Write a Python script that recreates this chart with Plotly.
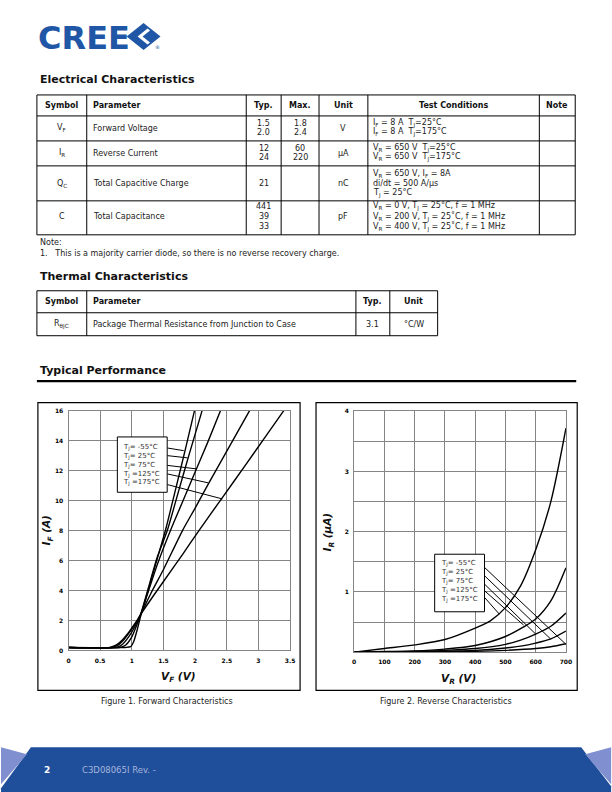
import plotly.graph_objects as go

W, H = 612, 792

# ---------------- Figure 1 data: Forward characteristics (V_F [V], I_F [A]) -------------
temps = ["-55°C", "25°C", "75°C", "125°C", "175°C"]
vf_m55 = [0, 0.90, 0.98, 1.03, 1.08, 1.14, 1.25, 1.40, 1.53, 1.70, 1.85, 1.99]
if_m55 = [0.2, 0.2, 0.25, 0.6, 1.3, 2.3, 3.9, 6.1, 8.0, 10.9, 13.5, 16.0]
vf_25 = [0, 0.80, 0.90, 1.00, 1.07, 1.14, 1.25, 1.40, 1.56, 1.75, 1.90, 2.11]
if_25 = [0.2, 0.2, 0.35, 0.9, 1.6, 2.4, 4.0, 6.2, 8.0, 10.8, 13.0, 16.0]
vf_75 = [0, 0.75, 0.85, 0.95, 1.05, 1.14, 1.25, 1.40, 1.61, 1.80, 2.00, 2.20, 2.40]
if_75 = [0.2, 0.2, 0.4, 0.9, 1.6, 2.4, 3.8, 5.7, 8.0, 9.9, 11.9, 13.9, 16.0]
vf_125 = [0, 0.68, 0.78, 0.88, 0.98, 1.06, 1.14, 1.30, 1.50, 1.80, 2.00, 2.22, 2.50, 2.86]
if_125 = [0.2, 0.2, 0.35, 0.75, 1.3, 1.8, 2.4, 3.8, 5.4, 8.0, 9.5, 11.2, 13.3, 16.0]
vf_175 = [0, 0.65, 0.75, 0.85, 0.95, 1.05, 1.14, 1.30, 1.50, 1.80, 2.06, 2.43, 2.80, 3.10, 3.40]
if_175 = [0.2, 0.2, 0.35, 0.7, 1.2, 1.8, 2.4, 3.4, 4.6, 6.4, 8.0, 10.2, 12.4, 14.2, 16.0]

f1_xticks = [0, 0.5, 1, 1.5, 2, 2.5, 3, 3.5]
f1_xticktext = ["0", "0.5", "1", "1.5", "2", "2.5", "3", "3.5"]
f1_yticks = [0, 2, 4, 6, 8, 10, 12, 14, 16]

# legend leader lines (figure 1): start / end points in data units
f1_lead_x0 = [1.56, 1.56, 1.56, 1.56, 1.56]
f1_lead_y0 = [13.51, 13.0, 12.35, 11.78, 11.07]
f1_lead_x1 = [1.82, 1.88, 2.03, 2.21, 2.43]
f1_lead_y1 = [13.33, 12.85, 12.11, 11.18, 10.11]

# ---------------- Figure 2 data: Reverse characteristics (V_R [V], I_R [uA]) -------------
vr_m55 = [0, 300, 400, 500, 600, 650, 700]
ir_m55 = [0, 0.008, 0.015, 0.03, 0.06, 0.09, 0.14]
vr_25 = [0, 300, 400, 500, 550, 600, 650, 700]
ir_25 = [0, 0.015, 0.03, 0.07, 0.10, 0.15, 0.22, 0.35]
vr_75 = [0, 200, 300, 400, 500, 550, 600, 650, 700]
ir_75 = [0, 0.01, 0.03, 0.06, 0.13, 0.20, 0.30, 0.43, 0.65]
vr_125 = [0, 100, 200, 300, 400, 500, 560, 600, 650, 700]
ir_125 = [0, 0.01, 0.02, 0.05, 0.11, 0.26, 0.42, 0.55, 0.85, 1.40]
vr_175 = [0, 100, 200, 300, 400, 450, 500, 550, 600, 650, 700]
ir_175 = [0, 0.06, 0.12, 0.21, 0.40, 0.52, 0.74, 1.10, 1.70, 2.50, 3.72]

f2_xticks = [0, 100, 200, 300, 400, 500, 600, 700]
f2_ygrid = [0, 0.5, 1, 1.5, 2, 2.5, 3, 3.5, 4]
f2_yticktext = ["", "", "1", "", "2", "", "3", "", "4"]

f2_lead_x0 = [431, 431, 431, 431, 431]
f2_lead_y0 = [1.406, 1.268, 1.129, 1.019, 0.908]
f2_lead_x1 = [700, 649, 600, 560, 480]
f2_lead_y1 = [0.13, 0.22, 0.30, 0.45, 0.63]

# ---------------- Table data -------------
t1_header = ["Symbol", "Parameter", "Typ.", "Max.", "Unit", "Test Conditions", "Note"]
t1_symbol = ["V<sub>F</sub>", "I<sub>R</sub>", "Q<sub>C</sub>", "C"]
t1_param = ["Forward Voltage", "Reverse Current", "Total Capacitive Charge", "Total Capacitance"]
t1_typ = [["1.5", "2.0"], ["12", "24"], ["21"], ["441", "39", "33"]]
t1_max = [["1.8", "2.4"], ["60", "220"], [], []]
t1_unit = ["V", "μA", "nC", "pF"]
t1_cond = [
    ["I<sub>F</sub> = 8 A  T<sub>J</sub>=25°C", "I<sub>F</sub> = 8 A  T<sub>J</sub>=175°C"],
    ["V<sub>R</sub> = 650 V  T<sub>J</sub>=25°C", "V<sub>R</sub> = 650 V  T<sub>J</sub>=175°C"],
    ["V<sub>R</sub> = 650 V, I<sub>F</sub> = 8A", "di/dt = 500 A/μs", "T<sub>J</sub> = 25°C"],
    ["V<sub>R</sub> = 0 V, T<sub>J</sub> = 25°C, f = 1 MHz",
     "V<sub>R</sub> = 200 V, T<sub>J</sub> = 25˚C, f = 1 MHz",
     "V<sub>R</sub> = 400 V, T<sub>J</sub> = 25˚C, f = 1 MHz"],
]
t2_header = ["Symbol", "Parameter", "Typ.", "Unit"]
t2_row = ["R<sub>θJC</sub>", "Package Thermal Resistance from Junction to Case", "3.1", "°C/W"]

# ---------------- helpers (page pixel -> paper fraction) -------------
SX, OX = 1.0101, -1.0
SY, OY = 1.008, -4.0

def px(x):
    return (SX * x + OX) / W

def py(y):
    return 1 - (SY * y + OY) / H

FONT = "DejaVu Sans"
annots = []
shapes = []

def txt(x, y, s, size=8, color="#222", xanchor="left", bold=False, family=FONT, yanchor="middle", **kw):
    if bold:
        s = "<b>" + s + "</b>"
    annots.append(dict(x=px(x), y=py(y), xref="paper", yref="paper", text=s, showarrow=False,
                       xanchor=xanchor, yanchor=yanchor,
                       font=dict(family=family, size=size, color=color), **kw))

def hline(x0, x1, y, w=1, color="black"):
    shapes.append(dict(type="line", xref="paper", yref="paper", x0=px(x0), x1=px(x1), y0=py(y), y1=py(y),
                       line=dict(color=color, width=w)))

def vline(x, y0, y1, w=1, color="black"):
    shapes.append(dict(type="line", xref="paper", yref="paper", x0=px(x), x1=px(x), y0=py(y0), y1=py(y1),
                       line=dict(color=color, width=w)))

def rect(x0, y0, x1, y1, w=1, color="black", fill=None):
    d = dict(type="rect", xref="paper", yref="paper", x0=px(x0), x1=px(x1), y0=py(y0), y1=py(y1),
             line=dict(color=color, width=w))
    if fill:
        d["fillcolor"] = fill
    shapes.append(d)

def path(pts, fill, lw=0, lc=None):
    s = "M " + " L ".join(f"{px(a):.5f},{py(b):.5f}" for a, b in pts) + " Z"
    shapes.append(dict(type="path", xref="paper", yref="paper", path=s, fillcolor=fill,
                       line=dict(width=lw, color=lc or fill)))

# ---------------- Logo -------------
BLUE = "#1f56a5"
txt(35, 37.5, "CREE", size=32, color=BLUE, bold=True)
for yy in [29.5, 33.5, 41.5, 45.0]:
    hline(34, 127, yy, w=1, color="white")
path([(143, 23), (160, 36.5), (143, 50), (126, 36.5)], BLUE)
path([(137, 36.5), (147, 28.5), (149.5, 30.5), (142, 36.5), (149.5, 42.5), (147, 44.5)], "white")
txt(157, 47, "®", size=5, color=BLUE, xanchor="center")

# ---------------- Electrical Characteristics -------------
txt(37, 80, "Electrical Characteristics", size=11, color="#111", bold=True)
c1 = [36, 86, 246, 281, 319, 368, 540, 576]
r1 = [95, 116, 141, 166, 201, 235]
for y in r1:
    hline(c1[0], c1[-1], y)
for x in c1:
    vline(x, r1[0], r1[-1])
hc = [(c1[i] + c1[i + 1]) / 2 for i in range(len(c1) - 1)]
for i, h in enumerate(t1_header):
    if i == 1:
        txt(90, 105.5, h, bold=True, color="#111")
    else:
        txt(hc[i], 105.5, h, bold=True, color="#111", xanchor="center")

row_lines = [[124, 133], [149, 158], [174.5, 184, 194], [207, 217, 227]]
row_center = [128.5, 153.5, 184, 217]
for r in range(4):
    txt(hc[0], row_center[r], t1_symbol[r], xanchor="center")
    txt(90, row_center[r], t1_param[r])
    lines = row_lines[r]
    typ = t1_typ[r]
    if len(typ) == 1:
        txt(hc[2], row_center[r], typ[0], xanchor="center")
    else:
        for k, v in enumerate(typ):
            txt(hc[2], lines[k], v, xanchor="center")
    for k, v in enumerate(t1_max[r]):
        txt(hc[3], lines[k], v, xanchor="center")
    txt(hc[4], row_center[r], t1_unit[r], xanchor="center")
    for k, v in enumerate(t1_cond[r]):
        txt(371, lines[k], v)

txt(37, 243, "Note:")
txt(37, 254, "1.   This is a majority carrier diode, so there is no reverse recovery charge.")

# ---------------- Thermal Characteristics -------------
txt(37, 277, "Thermal Characteristics", size=11, color="#111", bold=True)
c2 = [36, 86, 356, 390, 438]
r2 = [291, 313, 336]
for y in r2:
    hline(c2[0], c2[-1], y)
for x in c2:
    vline(x, r2[0], r2[-1])
hc2 = [(c2[i] + c2[i + 1]) / 2 for i in range(len(c2) - 1)]
for i, h in enumerate(t2_header):
    if i == 1:
        txt(90, 302, h, bold=True, color="#111")
    else:
        txt(hc2[i], 302, h, bold=True, color="#111", xanchor="center")
for i, v in enumerate(t2_row):
    if i == 1:
        txt(90, 325, v)
    else:
        txt(hc2[i], 325, v, xanchor="center")

# ---------------- Typical Performance -------------
txt(37, 371, "Typical Performance", size=11, color="#111", bold=True)
hline(36, 577, 381.5, w=2.2, color="black")

rect(37, 403, 300, 691, w=1.2)
rect(316, 403, 578, 691, w=1.2)
txt(167, 702, "Figure 1. Forward Characteristics", xanchor="center", size=8)
txt(446, 702, "Figure 2. Reverse Characteristics", xanchor="center", size=8)

txt(178, 678, "<b><i>V<sub>F</sub> (V)</i></b>", size=10.5, color="#111", xanchor="center")
txt(46, 531, "<b><i>I<sub>F</sub> (A)</i></b>", size=10.5, color="#111", xanchor="center", textangle=-90)
txt(459, 680, "<b><i>V<sub>R</sub> (V)</i></b>", size=10.5, color="#111", xanchor="center")
txt(328, 532, "<b><i>I<sub>R</sub> (μA)</i></b>", size=10.5, color="#111", xanchor="center", textangle=-90)

rect(116.7, 437.3, 166.7, 492.7, w=1, fill="white")
for t, yy in zip(temps, [447.7, 456.7, 465.7, 474.3, 482.7]):
    sep = "= " if t in ("-55°C", "25°C", "75°C") else " ="
    txt(120, yy, "T<sub>J</sub>" + sep + t, size=7, color="#333")
rect(435, 554.7, 485, 612.3, w=1, fill="white")
for t, yy in zip(temps, [563.5, 572.5, 581.3, 590.5, 599.5]):
    sep = "= " if t in ("-55°C", "25°C", "75°C") else " ="
    txt(439, yy, "T<sub>J</sub>" + sep + t, size=7, color="#333")

# ---------------- Footer -------------
DARK = "#1f4f9b"
LIGHT = "#7f8fcf"
path([(30, 748), (582, 748), (612, 787), (612, 800), (0, 800), (0, 789)], DARK)
path([(0, 748), (26, 755), (0, 785)], LIGHT)
path([(612, 748), (586, 755), (612, 785)], LIGHT)
txt(41, 771, "2", size=9, color="white", bold=True)
txt(79, 771, "C3D08065I Rev. -", size=8.5, color="#a6b4dc")

# ---------------- Figure construction -------------
fig = go.Figure()
curve_style = dict(color="black", width=1.4)
f1 = [(vf_m55, if_m55), (vf_25, if_25), (vf_75, if_75), (vf_125, if_125), (vf_175, if_175)]
for (xs, ys), t in zip(f1, temps):
    fig.add_trace(go.Scatter(x=xs, y=ys, mode="lines", line=dict(shape="spline", smoothing=0.6, **curve_style),
                             name=t, xaxis="x", yaxis="y", showlegend=False, hoverinfo="skip"))
for a, b, c, d in zip(f1_lead_x0, f1_lead_y0, f1_lead_x1, f1_lead_y1):
    fig.add_trace(go.Scatter(x=[a, c], y=[b, d], mode="lines", line=dict(color="black", width=1),
                             xaxis="x", yaxis="y", showlegend=False, hoverinfo="skip"))

f2 = [(vr_m55, ir_m55), (vr_25, ir_25), (vr_75, ir_75), (vr_125, ir_125), (vr_175, ir_175)]
for (xs, ys), t in zip(f2, temps):
    fig.add_trace(go.Scatter(x=xs, y=ys, mode="lines", line=dict(shape="spline", smoothing=0.8, **curve_style),
                             name=t, xaxis="x2", yaxis="y2", showlegend=False, hoverinfo="skip"))
for a, b, c, d in zip(f2_lead_x0, f2_lead_y0, f2_lead_x1, f2_lead_y1):
    fig.add_trace(go.Scatter(x=[a, c], y=[b, d], mode="lines", line=dict(color="black", width=1),
                             xaxis="x2", yaxis="y2", showlegend=False, hoverinfo="skip"))

GRID = "#858585"
tickf = dict(family=FONT, size=6, color="black", weight="bold")
ax_common = dict(showgrid=True, gridcolor=GRID, gridwidth=1, showline=True, linecolor=GRID, linewidth=1,
                 mirror=True, zeroline=False, ticks="", tickfont=tickf, fixedrange=True)

fig.update_layout(
    width=W, height=H, margin=dict(l=0, r=0, t=0, b=0),
    paper_bgcolor="white", plot_bgcolor="white", showlegend=False,
    xaxis=dict(domain=[px(67.7), px(290)], range=[0, 3.5], tickvals=f1_xticks, ticktext=f1_xticktext,
               anchor="y", ticklabelstandoff=4, **ax_common),
    yaxis=dict(domain=[py(651), py(411)], range=[0, 16], tickvals=f1_yticks, anchor="x",
               ticklabelstandoff=3, **ax_common),
    xaxis2=dict(domain=[px(354.3), px(566.7)], range=[0, 700], tickvals=f2_xticks, anchor="y2",
                ticklabelstandoff=4, **ax_common),
    yaxis2=dict(domain=[py(652.7), py(411.7)], range=[0, 4], tickvals=f2_ygrid, ticktext=f2_yticktext,
                anchor="x2", ticklabelstandoff=3, **ax_common),
    shapes=shapes, annotations=annots,
)

css_js = (
    "var s=document.createElement('style');"
    "s.textContent='html,body{margin:0;padding:0;width:612px;height:792px;overflow:hidden;}'"
    "+'body>div{margin:0;padding:0;line-height:0;height:792px;width:612px;overflow:hidden;}';"
    "document.head.appendChild(s);"
)
fig.write_html("out.html", config={"displayModeBar": False}, post_script=css_js)
